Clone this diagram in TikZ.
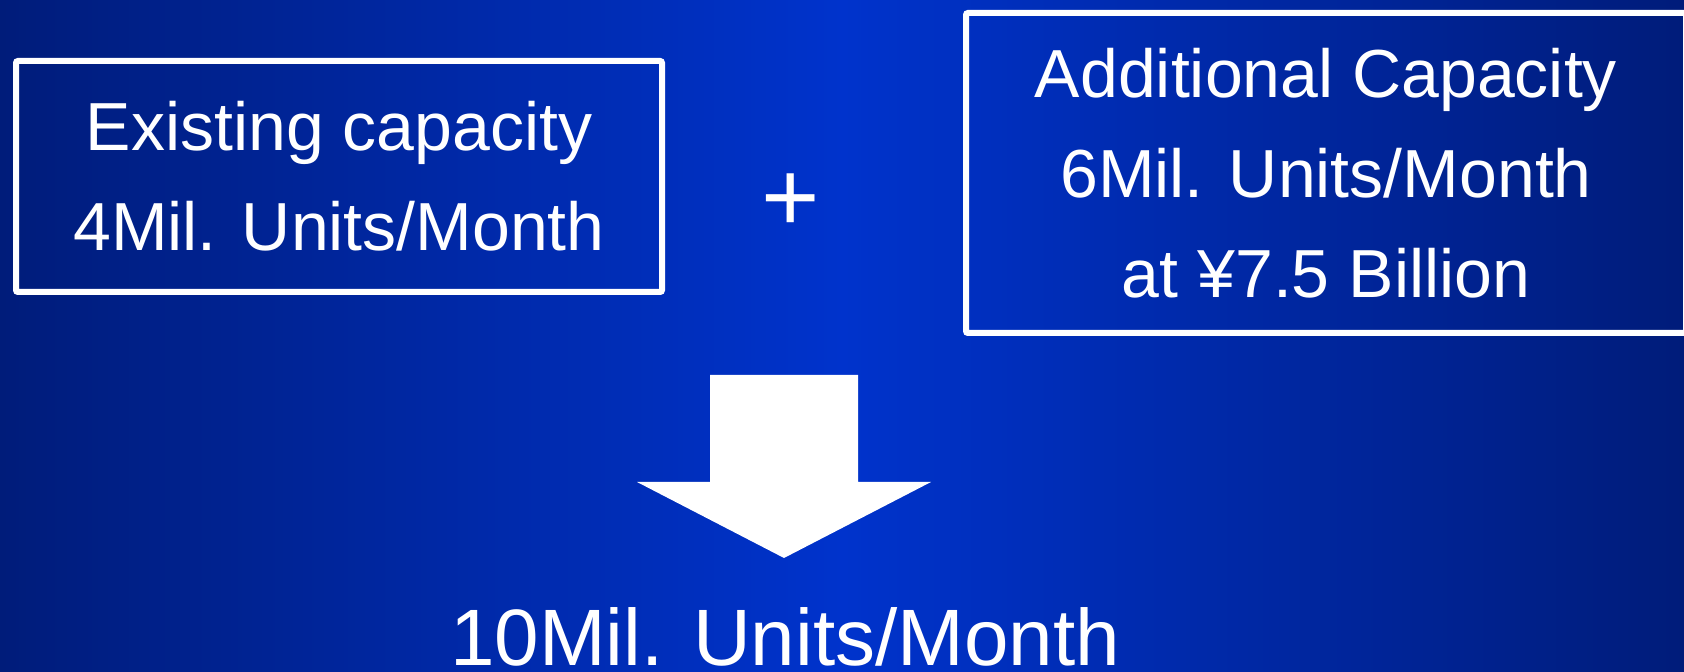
\documentclass[tikz,border=0pt]{standalone}
\usepackage{fontspec}
\setmainfont{Liberation Sans}
\definecolor{bgedge}{RGB}{0,28,122}
\definecolor{bgmid}{RGB}{0,51,204}

\begin{document}
\begin{tikzpicture}[
x=1pt, y=1pt,
every node/.style={
text=white,
align=center,
inner sep=0pt
},
box/.style={
draw=white,
line width=3pt,
rounded corners=1pt,
font=\fontsize{34}{50}\selectfont
}
]

\shade[left color=bgedge, right color=bgedge, middle color=bgmid]
(0,0) rectangle (842,336);
\useasboundingbox (0,0) rectangle (842,336);
\clip (0,0) rectangle (842,336);

\node[box, minimum width=323pt, minimum height=115.5pt] (1) at (169.5,247.75)
{Existing capacity\\4Mil. Units/Month};

\node[font=\fontsize{50}{50}\selectfont, anchor=base] (2) at (395.25,220.2)
{+};

\node[box, minimum width=360pt, minimum height=160pt] (3) at (663,249.5)
{Additional Capacity\\6Mil. Units/Month\\at ¥7.5 Billion};

\node[font=\fontsize{40}{48}\selectfont, anchor=base] (4) at (392.5,3)
{10Mil. Units/Month};

% block arrow
\fill[white] (355,148.5) -- (429,148.5) -- (429,95) -- (465.5,95)
-- (392,57) -- (318.5,95) -- (355,95) -- cycle;

\end{tikzpicture}
\end{document}
